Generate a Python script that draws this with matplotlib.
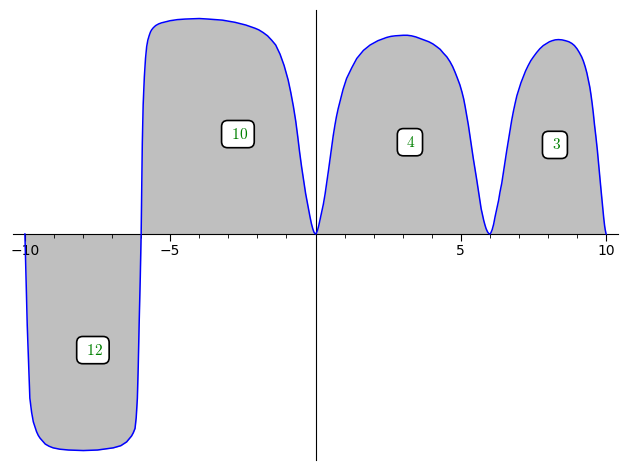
import numpy as np
import matplotlib
matplotlib.use("Agg")
import matplotlib.pyplot as plt

plt.rcParams['mathtext.fontset'] = 'cm'

# curve, one piece per filled lobe
lobe_a_x = [-10.0, -9.96, -9.92, -9.87, -9.83, -9.77, -9.71, -9.65, -9.60, -9.54, -9.48,
            -9.40, -9.30, -9.17, -9.03, -8.80, -8.50, -7.99, -7.50, -6.96, -6.70, -6.50,
            -6.33, -6.27, -6.21, -6.17, -6.13, -6.10, -6.07, -6.03, -6.0]
lobe_a_y = [0, -0.85, -1.69, -2.45, -3.04, -3.30, -3.48, -3.58, -3.66, -3.73, -3.78,
            -3.83, -3.89, -3.93, -3.96, -3.985, -4.00, -4.01, -4.00, -3.96, -3.92, -3.85,
            -3.74, -3.68, -3.60, -3.40, -3.04, -2.45, -1.69, -0.80, 0]

lobe_b_x = [-6.0, -5.98, -5.96, -5.93, -5.89, -5.85, -5.81, -5.77, -5.72, -5.68, -5.64,
            -5.58, -5.50, -5.40, -5.30, -5.15, -5.0, -4.75, -4.49, -4.25, -4.0, -3.69,
            -3.2, -2.77, -2.40, -2.08, -1.95, -1.80, -1.65, -1.51, -1.37, -1.22, -1.08,
            -0.94, -0.85, -0.76, -0.68, -0.61, -0.55, -0.48, -0.41, -0.34, -0.26, -0.19,
            -0.14, -0.09, -0.05, 0.0]
lobe_b_y = [0, 0.85, 1.68, 2.40, 2.91, 3.25, 3.47, 3.59, 3.68, 3.74, 3.78,
            3.82, 3.86, 3.89, 3.91, 3.93, 3.95, 3.97, 3.98, 3.985, 3.99, 3.98,
            3.96, 3.92, 3.87, 3.81, 3.78, 3.73, 3.67, 3.59, 3.50, 3.33, 3.12,
            2.85, 2.62, 2.36, 2.09, 1.80, 1.53, 1.25, 1.00, 0.75, 0.52, 0.32,
            0.19, 0.09, 0.03, 0]

lobe_c_x = [0, 0.03, 0.07, 0.11, 0.15, 0.21, 0.27, 0.33, 0.39, 0.45, 0.5, 0.56, 0.61,
            0.67, 0.72, 0.78, 0.84, 0.95, 1.07, 1.25, 1.42, 1.65, 1.88, 2.15, 2.30, 2.45,
            2.60, 2.75, 3.02, 3.16, 3.30, 3.45, 3.60, 3.75, 3.90, 4.04, 4.17, 4.29, 4.40,
            4.52, 4.63, 4.72, 4.80, 4.88, 4.97, 5.04, 5.10, 5.15, 5.20, 5.26, 5.32, 5.38,
            5.43, 5.49, 5.55, 5.60, 5.66, 5.70, 5.75, 5.79, 5.83, 5.87, 5.92, 5.96, 6.0]
lobe_c_y = [0, 0.015, 0.07, 0.15, 0.25, 0.40, 0.55, 0.74, 0.96, 1.19, 1.39, 1.63, 1.82,
            2.02, 2.17, 2.32, 2.45, 2.68, 2.88, 3.08, 3.25, 3.40, 3.50, 3.58, 3.61, 3.64,
            3.66, 3.67, 3.68, 3.68, 3.67, 3.65, 3.62, 3.59, 3.56, 3.52, 3.47, 3.42, 3.35,
            3.28, 3.19, 3.10, 3.00, 2.89, 2.76, 2.63, 2.50, 2.36, 2.20, 2.02, 1.80, 1.57,
            1.40, 1.20, 1.00, 0.82, 0.60, 0.47, 0.35, 0.25, 0.17, 0.10, 0.04, 0.01, 0]

lobe_d_x = [6.0, 6.03, 6.08, 6.13, 6.18, 6.24, 6.30, 6.35, 6.41, 6.46, 6.52, 6.58, 6.64,
            6.70, 6.75, 6.81, 6.87, 6.93, 7.0, 7.07, 7.15, 7.23, 7.32, 7.41, 7.50, 7.61,
            7.72, 7.84, 7.90, 7.96, 8.05, 8.15, 8.25, 8.36, 8.48, 8.60, 8.72, 8.82, 8.91,
            9.0, 9.08, 9.16, 9.22, 9.28, 9.34, 9.39, 9.44, 9.48, 9.52, 9.56, 9.60, 9.65,
            9.70, 9.74, 9.78, 9.82, 9.86, 9.89, 9.92, 9.95, 9.97, 10.0]
lobe_d_y = [0, 0.015, 0.08, 0.18, 0.32, 0.47, 0.62, 0.78, 0.94, 1.12, 1.33, 1.54, 1.74,
            1.93, 2.10, 2.27, 2.42, 2.56, 2.68, 2.80, 2.91, 3.02, 3.12, 3.21, 3.28, 3.36,
            3.43, 3.49, 3.51, 3.53, 3.56, 3.58, 3.595, 3.60, 3.595, 3.58, 3.56, 3.53, 3.49,
            3.43, 3.36, 3.28, 3.20, 3.10, 2.98, 2.85, 2.72, 2.58, 2.42, 2.24, 2.03, 1.80,
            1.55, 1.31, 1.08, 0.85, 0.62, 0.44, 0.29, 0.15, 0.08, 0]

# region labels
label_text = ['12', '10', '4', '3']
label_x = [-7.66, -2.67, 3.25, 8.24]
label_y = [-2.15, 1.85, 1.70, 1.65]

xs = np.concatenate([lobe_a_x, lobe_b_x[1:], lobe_c_x[1:], lobe_d_x[1:]])
ys = np.concatenate([lobe_a_y, lobe_b_y[1:], lobe_c_y[1:], lobe_d_y[1:]])

fig = plt.figure(figsize=(6.27, 4.70), dpi=100)
ax = fig.add_axes([13/627, 10/470, 605/627, 450/470])

ax.fill_between(xs, 0, ys, color='#bfbfbf', linewidth=0, zorder=1)
ax.plot(xs, ys, color='#0000ff', lw=1.1, zorder=3)

for t, lx, ly in zip(label_text, label_x, label_y):
    ax.text(lx, ly, r'$\;' + t + '$', color='#008000', fontsize=11, ha='center', va='center',
            zorder=5,
            bbox=dict(boxstyle='round,pad=0.4', fc='white', ec='black', lw=1.2))

ax.set_xlim(-10.41, 10.41)
ax.set_ylim(-4.185, 4.148)

for s in ['top', 'right']:
    ax.spines[s].set_visible(False)
ax.spines['left'].set_position(('data', 0))
ax.spines['bottom'].set_position(('data', 0))
ax.spines['left'].set_zorder(2)
ax.spines['bottom'].set_zorder(2)

ax.set_xticks([-10, -5, 5, 10])
ax.set_xticklabels(['\u221210', '\u22125', '5', '10'])
ax.set_xticks(np.arange(-10, 11, 1), minor=True)
ax.set_yticks([])
ax.tick_params(axis='x', which='major', length=5, labelsize=10, pad=2)
ax.tick_params(axis='x', which='minor', length=3)

fig.savefig('out.png', dpi=100)
